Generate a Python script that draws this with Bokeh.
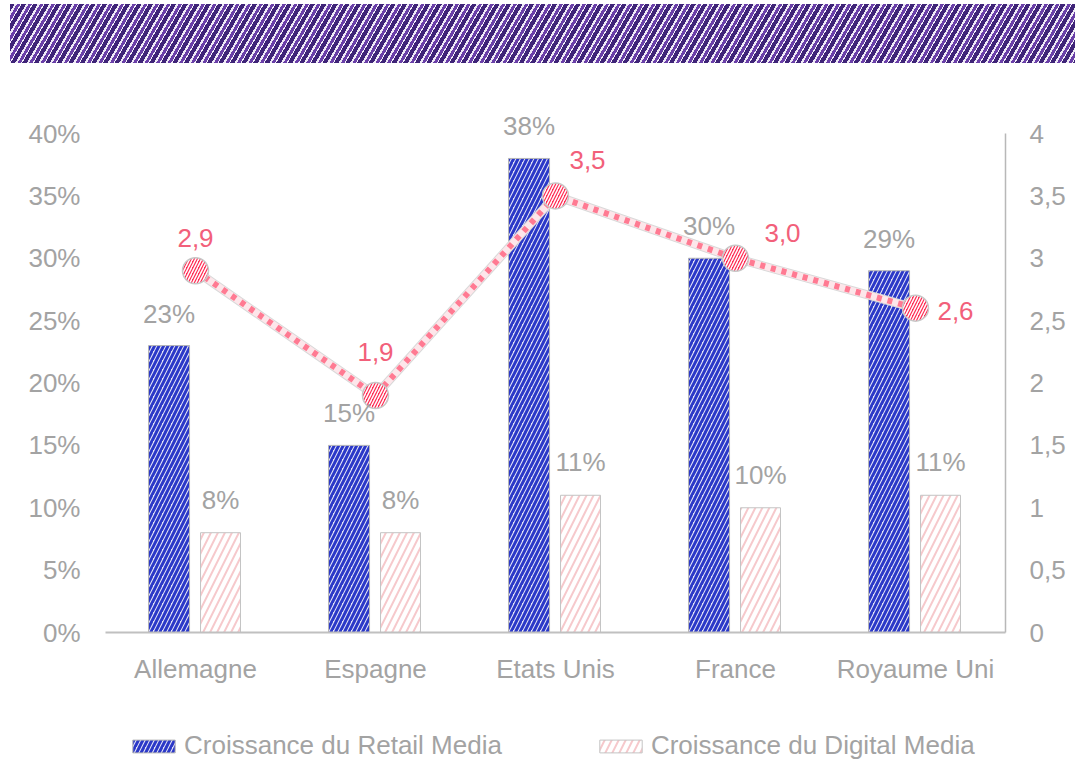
from bokeh.plotting import figure
from bokeh.models import (ColumnDataSource, Range1d, LinearAxis, FixedTicker,
                          LabelSet, Legend, LegendItem, FactorRange, Div)
from bokeh.core.properties import value
from bokeh.transform import dodge
from bokeh.layouts import column
from bokeh.embed import file_html
from bokeh.resources import INLINE

# ---- data ----
countries = ["Allemagne", "Espagne", "Etats Unis", "France", "Royaume Uni"]
retail_growth = [23, 15, 38, 30, 29]          # % croissance du Retail Media
digital_growth = [8, 8, 11, 10, 11]           # % croissance du Digital Media
ratio = [2.9, 1.9, 3.5, 3.0, 2.6]             # secondary axis values
left_ticks = [0, 5, 10, 15, 20, 25, 30, 35, 40]
right_ticks = [0, 0.5, 1, 1.5, 2, 2.5, 3, 3.5, 4]

# ---- styles ----
FONT = "Liberation Sans"
GREY = "#a3a3a3"
FS = "26px"
label_dx = [0, 0, 32, 47, 40]     # offsets of the ratio labels (px)
label_dy = [24, 34, 27, 16, -12]
HEADROOM = 522 / 499              # extra room above the top tick for labels

src = ColumnDataSource(dict(
    country=countries,
    retail=retail_growth,
    digital=digital_growth,
    ratio=ratio,
    retail_lbl=[f"{v}%" for v in retail_growth],
    digital_lbl=[f"{v}%" for v in digital_growth],
    ratio_lbl=[f"{v:.1f}".replace(".", ",") for v in ratio],
    dx=label_dx,
    dy=label_dy,
))

RETAIL_STYLE = dict(fill_color="#e4e4f6", line_color="#b5b5b5", line_width=1,
                    hatch_pattern="/", hatch_color="#2b38c8", hatch_scale=9, hatch_weight=3)
DIGITAL_STYLE = dict(fill_color="white", line_color="#c4c4c4", line_width=1,
                     hatch_pattern="/", hatch_color="#f6c9cc", hatch_scale=14, hatch_weight=2)
R_OFF, D_OFF = -0.147, 0.139

# ---- banner ----
banner = Div(text="", width=1065, height=59, margin=(4, 6, 0, 10),
             styles={"background": "repeating-linear-gradient(120deg, #3f2478 0px, #3f2478 4px, "
                                   "#efeaf6 4px, #efeaf6 6px, #6a3fa8 6px, #6a3fa8 9px, "
                                   "#f4f0f9 9px, #f4f0f9 10px)"})

# ---- main chart ----
p = figure(width=1081, height=665, output_backend="svg", toolbar_location=None,
           x_range=FactorRange(*countries, range_padding=0),
           y_range=Range1d(0, left_ticks[-1] * HEADROOM),
           min_border_top=47, min_border_bottom=96, min_border_left=105, min_border_right=76)
p.extra_y_ranges = {"y2": Range1d(0, right_ticks[-1] * HEADROOM)}
p.outline_line_color = None
p.grid.visible = False
p.background_fill_color = "white"

p.vbar(x=dodge("country", R_OFF, range=p.x_range), top="retail", width=0.228,
       source=src, **RETAIL_STYLE)
p.vbar(x=dodge("country", D_OFF, range=p.x_range), top="digital", width=0.222,
       source=src, **DIGITAL_STYLE)

# line on secondary axis
p.line(x="country", y="ratio", source=src, y_range_name="y2",
       line_color="#d9d9d9", line_width=9)
p.line(x="country", y="ratio", source=src, y_range_name="y2",
       line_color="#fde6ea", line_width=7)
p.line(x="country", y="ratio", source=src, y_range_name="y2",
       line_color="#ff7a92", line_width=6, line_dash="5 6")
p.scatter(x="country", y="ratio", source=src, y_range_name="y2", size=26,
          fill_color="#ff2d55", line_color="#c8c8c8", line_width=1.5,
          hatch_pattern="/", hatch_color="white", hatch_scale=6, hatch_weight=1.5)

# labels
p.add_layout(LabelSet(x=dodge("country", R_OFF, range=p.x_range), y="retail", text="retail_lbl",
                      source=src, text_align="center", text_baseline="bottom", y_offset=17,
                      text_font=value(FONT), text_font_size=value(FS), text_color=GREY))
p.add_layout(LabelSet(x=dodge("country", D_OFF, range=p.x_range), y="digital", text="digital_lbl",
                      source=src, text_align="center", text_baseline="bottom", y_offset=18,
                      text_font=value(FONT), text_font_size=value(FS), text_color=GREY))
p.add_layout(LabelSet(x="country", y="ratio", y_range_name="y2", text="ratio_lbl",
                      source=src, text_align="center", text_baseline="bottom",
                      x_offset="dx", y_offset="dy",
                      text_font=value(FONT), text_font_size=value(FS), text_color="#f2607a"))

# axes
p.yaxis.ticker = FixedTicker(ticks=left_ticks)
p.yaxis.major_label_overrides = {t: f"{t}%" for t in left_ticks}
p.yaxis.axis_line_color = None
p.yaxis.major_tick_line_color = None
p.yaxis.major_tick_out = 0
p.yaxis.minor_tick_line_color = None
p.yaxis.major_label_standoff = 25
p.yaxis.major_label_text_font = FONT
p.yaxis.major_label_text_font_size = FS
p.yaxis.major_label_text_color = GREY

ax2 = LinearAxis(y_range_name="y2", ticker=FixedTicker(ticks=right_ticks),
                 bounds=(right_ticks[0], right_ticks[-1]),
                 major_label_overrides={t: (f"{t:g}".replace(".", ",")) for t in right_ticks})
ax2.axis_line_color = "#b8b8b8"
ax2.axis_line_width = 1.5
ax2.major_tick_line_color = None
ax2.major_tick_out = 0
ax2.minor_tick_line_color = None
ax2.major_label_standoff = 24
ax2.major_label_text_font = FONT
ax2.major_label_text_font_size = FS
ax2.major_label_text_color = GREY
p.add_layout(ax2, "right")

p.xaxis.axis_line_color = "#c0c0c0"
p.xaxis.axis_line_width = 2
p.xaxis.major_tick_line_color = None
p.xaxis.major_tick_out = 0
p.xaxis.major_label_standoff = 21
p.xaxis.major_label_text_font = FONT
p.xaxis.major_label_text_font_size = FS
p.xaxis.major_label_text_color = GREY

# ---- legend strip (own figure; its bars sit far outside its visible y-range) ----
lg = figure(width=1081, height=36, output_backend="svg", toolbar_location=None,
            x_range=p.x_range, y_range=Range1d(1000, 1001),
            min_border_top=0, min_border_bottom=0, min_border_left=105, min_border_right=76)
lg.axis.visible = False
lg.grid.visible = False
lg.outline_line_color = None
lr = lg.vbar(x=dodge("country", R_OFF, range=lg.x_range), top="retail", width=0.228,
             source=src, **RETAIL_STYLE)
ld = lg.vbar(x=dodge("country", D_OFF, range=lg.x_range), top="digital", width=0.222,
             source=src, **DIGITAL_STYLE)
legend = Legend(items=[LegendItem(label="Croissance du Retail Media", renderers=[lr]),
                       LegendItem(label="Croissance du Digital Media", renderers=[ld])],
                orientation="horizontal", location=(22, 3), padding=0, margin=0, spacing=92,
                glyph_width=53, glyph_height=16, label_standoff=4,
                label_text_font=FONT, label_text_font_size=FS, label_text_color=GREY,
                border_line_color=None, background_fill_alpha=0)
lg.add_layout(legend, "center")

layout = column(banner, p, lg, spacing=0)
open("out.html", "w").write(file_html(layout, INLINE))
